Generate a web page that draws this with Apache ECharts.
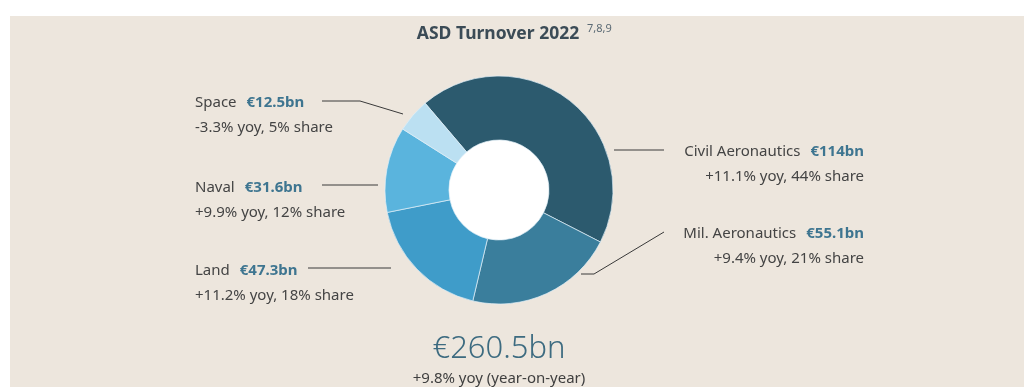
<!DOCTYPE html>
<html>
<head>
<meta charset="utf-8">
<script src="https://cdn.jsdelivr.net/npm/echarts@6/dist/echarts.min.js"></script>
<style>
  html, body { margin: 0; padding: 0; background: #ffffff; }
  #chart { width: 1024px; height: 387px; }
</style>
</head>
<body>
<div id="chart"></div>
<script>
// ASD turnover 2022 by sector (EUR bn)
const sectors   = ['Civil Aeronautics', 'Mil. Aeronautics', 'Land', 'Naval', 'Space'];
const turnover  = [114, 55.1, 47.3, 31.6, 12.5];
const yoyChange = [11.1, 9.4, 11.2, 9.9, -3.3];
const sharePct  = [44, 21, 18, 12, 5];
const sectorColors = ['#2c5a6e', '#3a7e9c', '#3f9cc9', '#5ab4dd', '#bbe0f2'];

const totalTurnover = 260.5;
const totalYoy = 9.8;
const titleText = 'ASD Turnover 2022';
const titleNotes = '7,8,9';

// label placement: anchor x, middle y, side, and leader line points
const labelSpots = [
  { x: 864, y: 164,   side: 'right', line: [[614, 150], [664, 150]] },
  { x: 864, y: 246,   side: 'right', line: [[581, 274], [594, 274], [664, 232]] },
  { x: 195, y: 283.5, side: 'left',  line: [[308, 268], [391, 268]] },
  { x: 195, y: 200,   side: 'left',  line: [[322, 185], [378, 185]] },
  { x: 195, y: 115.5, side: 'left',  line: [[322, 101], [360, 101], [403, 114]] }
];

const fmtPct = v => (v > 0 ? '+' : '') + v + '%';

const chart = echarts.init(document.getElementById('chart'), null, { renderer: 'canvas' });

const FONT = '"Noto Sans", sans-serif';

chart.setOption({
  backgroundColor: '#ffffff',
  animation: false,
  graphic: [
    { type: 'rect', z: -10, shape: { x: 10, y: 16, width: 1014, height: 371 }, style: { fill: '#ede6dd' } },
    { type: 'circle', z: -5, shape: { cx: 499, cy: 190, r: 52 }, style: { fill: '#ffffff' } },
    { type: 'text', style: { x: 498, y: 34, text: titleText, align: 'center', verticalAlign: 'middle',
        font: 'bold 17.5px ' + FONT, fill: '#3b4b56' } },
    { type: 'text', style: { x: 587, y: 29, text: titleNotes, align: 'left', verticalAlign: 'middle',
        font: '11px ' + FONT, fill: '#5b6a74' } },
    { type: 'text', style: { x: 499, y: 349, text: '€' + totalTurnover + 'bn', align: 'center', verticalAlign: 'middle',
        font: '300 31px ' + FONT, fill: '#3d6b80' } },
    { type: 'text', style: { x: 499, y: 379, text: fmtPct(totalYoy) + ' yoy (year-on-year)', align: 'center', verticalAlign: 'middle',
        font: '15px ' + FONT, fill: '#3f3f3f' } }
  ],
  series: [{
    type: 'pie',
    center: [499, 190],
    radius: [50, 114],
    startAngle: 130.4,
    clockwise: true,
    avoidLabelOverlap: false,
    itemStyle: { borderColor: 'rgba(225,240,248,0.7)', borderWidth: 1 },
    data: sectors.map((name, i) => ({
      name: name,
      value: turnover[i],
      itemStyle: { color: sectorColors[i] }
    })),
    label: {
      show: true,
      position: 'outside',
      formatter: p => {
        const i = p.dataIndex;
        return '{n|' + sectors[i] + '}{v|€' + turnover[i] + 'bn}\n{s|' + fmtPct(yoyChange[i]) + ' yoy, ' + sharePct[i] + '% share}';
      },
      rich: {
        n: { fontFamily: 'Noto Sans', fontSize: 15, color: '#444444', lineHeight: 25, padding: [0, 10, 0, 0] },
        v: { fontFamily: 'Noto Sans', fontSize: 15, fontWeight: 'bold', color: '#3e7590', lineHeight: 25 },
        s: { fontFamily: 'Noto Sans', fontSize: 15, color: '#444444', lineHeight: 25 }
      }
    },
    labelLine: { show: true, lineStyle: { color: '#3a3a3a', width: 1 } },
    labelLayout: p => {
      const spot = labelSpots[p.dataIndex];
      return {
        x: spot.x,
        y: spot.y,
        align: spot.side,
        verticalAlign: 'middle',
        labelLinePoints: spot.line
      };
    }
  }]
});
</script>
</body>
</html>
